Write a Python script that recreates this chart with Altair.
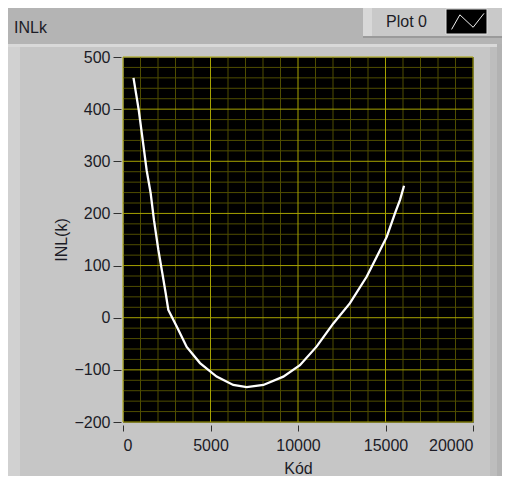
import altair as alt
import pandas as pd

# ---- data ----
kod = [600, 900, 1200, 1350, 1580, 1770, 2020, 2250, 2440, 2590, 3070, 3640,
       4400, 5350, 6300, 7070, 8020, 9160, 10110, 11070, 12020, 12970, 13930,
       14500, 15070, 15540, 15830, 16060]
inl = [460, 398, 322, 283, 239, 187, 130, 85, 47, 15, -17, -56,
       -87, -113, -129, -133, -129, -113, -91, -55, -11, 28, 79,
       117, 155, 200, 226, 253]

x_major = [0, 5000, 10000, 15000, 20000]
x_minor = [v for v in range(1000, 20000, 1000) if v % 5000 != 0]
y_major = [-200, -100, 0, 100, 200, 300, 400, 500]
y_minor = [v for v in range(-180, 500, 20) if v % 100 != 0]

title_text = "INLk"
legend_label = "Plot 0"
x_title = "Kód"
y_title = "INL(k)"

FONT = "Liberation Sans"
TXT = "#1c1c26"
MAJOR = "#a6a200"
MINOR = "#4f4d00"

xs = alt.Scale(domain=[0, 20000], nice=False, zero=False)
ys = alt.Scale(domain=[-200, 500], nice=False, zero=False)

xaxis = alt.Axis(
    values=x_major, format="d", title=x_title, grid=False, domain=False,
    offset=3, tickSize=6, tickColor="#303030", labelPadding=6,
    labelFont=FONT, labelFontSize=16, labelColor=TXT,
    titleFont=FONT, titleFontSize=16, titleFontWeight="normal",
    titleColor=TXT, titlePadding=7)
yaxis = alt.Axis(
    values=y_major, format="d", title=y_title, grid=False, domain=False,
    offset=2, tickSize=8, tickColor="#303030", labelPadding=3,
    labelFont=FONT, labelFontSize=16, labelColor=TXT,
    titleFont=FONT, titleFontSize=16, titleFontWeight="normal",
    titleColor=TXT, titlePadding=4)

curve_df = pd.DataFrame({"k": kod, "inl": inl})
one = pd.DataFrame({"a": [0]})


def rect(x, x2, y, y2, color, stroke=None):
    kw = dict(color=color)
    if stroke:
        kw["stroke"] = stroke
        kw["strokeWidth"] = 1
    return alt.Chart(one).mark_rect(**kw).encode(
        x=alt.value(x), x2=alt.value(x2), y=alt.value(y), y2=alt.value(y2))


# decoration (LabVIEW-like frame)
decor = [
    rect(-115, 380, -49, -13, "#b4b4b4"),
    rect(-115, 375, -13, -10, "#d9d9d9"),
    rect(-115, -103, -10, 420, "#d1d1d1"),
    rect(367, 374, -10, 420, "#bdbdbd"),
    rect(374, 380, -13, 420, "#b2b2b2"),
    rect(240, 380, -51, -20, "#c9c9c9"),
    rect(240, 249, -51, -20, "#d8d8d8"),
    rect(240, 380, -21, -19, "#9a9a9a"),
    rect(323, 364, -48, -23, "#000000", stroke="#e2e2e2"),
]

zig = alt.Chart(one).mark_point(
    shape="M-1,0.5L-0.49,-0.4L0.33,0.37L1,-0.49",
    filled=False, stroke="#f0f0f0", strokeWidth=1, size=1050, opacity=1,
).encode(x=alt.value(344.8), y=alt.value(-35.7))

legend_txt = alt.Chart(one).mark_text(
    text=legend_label, font=FONT, fontSize=16, color=TXT,
    align="left", baseline="middle",
).encode(x=alt.value(263), y=alt.value(-35))

title_mark = alt.Chart(one).mark_text(
    text=title_text, font=FONT, fontSize=16, color=TXT,
    align="left", baseline="middle",
).encode(x=alt.value(-109), y=alt.value(-29))

# grid
xminor = alt.Chart(pd.DataFrame({"v": x_minor})).mark_rule(
    stroke=MINOR, strokeWidth=1).encode(
    x=alt.X("v:Q", scale=xs, axis=xaxis))
yminor = alt.Chart(pd.DataFrame({"v": y_minor})).mark_rule(
    stroke=MINOR, strokeWidth=1).encode(
    y=alt.Y("v:Q", scale=ys, axis=yaxis))
xmajor = alt.Chart(pd.DataFrame({"v": x_major})).mark_rule(
    stroke=MAJOR, strokeWidth=1).encode(
    x=alt.X("v:Q", scale=xs, axis=xaxis))
ymajor = alt.Chart(pd.DataFrame({"v": y_major})).mark_rule(
    stroke=MAJOR, strokeWidth=1).encode(
    y=alt.Y("v:Q", scale=ys, axis=yaxis))

curve = alt.Chart(curve_df).mark_line(
    stroke="#ffffff", strokeWidth=2.3, interpolate="linear").encode(
    x=alt.X("k:Q", scale=xs, axis=xaxis),
    y=alt.Y("inl:Q", scale=ys, axis=yaxis),
)

chart = alt.layer(
    *decor, zig, legend_txt, title_mark,
    xminor, yminor, xmajor, ymajor, curve,
).properties(
    width=350, height=365,
    padding={"left": 115, "top": 49, "right": 29, "bottom": 54},
    autosize=alt.AutoSizeParams(type="none"),
    background="#c6c6c6",
).configure_view(
    fill="#000000", stroke="#5e5e5e", strokeWidth=1,
)

chart.save("out.html", embed_options={"renderer": "svg", "actions": False})
